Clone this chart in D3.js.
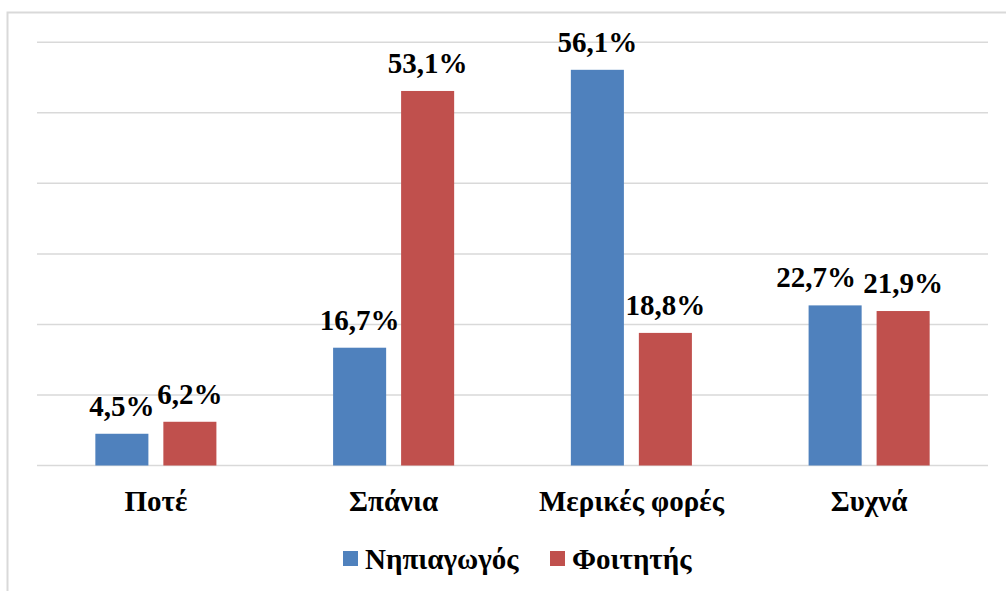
<!DOCTYPE html>
<html>
<head>
<meta charset="utf-8">
<script src="https://d3js.org/d3.v7.min.js"></script>
</head>
<body style="margin:0">
<script>
const categories = ["Ποτέ", "Σπάνια", "Μερικές φορές", "Συχνά"];
const seriesNames = ["Νηπιαγωγός", "Φοιτητής"];
const nipiagogos = [4.5, 16.7, 56.1, 22.7];
const foititis = [6.2, 53.1, 18.8, 21.9];
const yTicks = [0, 10, 20, 30, 40, 50, 60];
const colors = ["#4F81BD", "#C0504D"];

const w = 1006, h = 591;
const values = [nipiagogos, foititis];

const svg = d3.select('body').append('svg')
  .attr('width', w)
  .attr('height', h);

// outer frame
svg.append('rect')
  .attr('x', 7.5).attr('y', 12.5)
  .attr('width', w + 10).attr('height', h + 10)
  .attr('fill', 'none')
  .attr('stroke', '#d9d9d9')
  .attr('stroke-width', 2);

const x0 = d3.scaleBand()
  .domain(categories)
  .range([37, 988]);

const x1 = d3.scaleBand()
  .domain(seriesNames)
  .range([0, x0.bandwidth()])
  .paddingInner(0.22)
  .paddingOuter(0.858);

const y = d3.scaleLinear()
  .domain([0, 60])
  .range([465.5, 42.3]);

// gridlines
svg.append('g')
  .selectAll('line')
  .data(yTicks)
  .enter()
  .append('line')
  .attr('x1', 37).attr('x2', 988)
  .attr('y1', d => y(d)).attr('y2', d => y(d))
  .attr('stroke', '#d9d9d9')
  .attr('stroke-width', 1.5);

const groups = svg.append('g')
  .selectAll('g')
  .data(categories)
  .enter()
  .append('g')
  .attr('transform', d => 'translate(' + x0(d) + ',0)');

const cells = (c, i) => seriesNames.map((s, j) => ({ c: c, s: s, v: values[j][i], j: j }));

groups.selectAll('rect')
  .data(cells)
  .enter()
  .append('rect')
  .attr('x', d => x1(d.s))
  .attr('y', d => y(d.v))
  .attr('width', x1.bandwidth())
  .attr('height', d => y(0) - y(d.v))
  .attr('fill', d => colors[d.j]);

// the 22,7% label was dragged left in the original so it doesn't hit 21,9%
const nudge = d => (d.c === "Συχνά" && d.j === 0) ? -19 : 0;

groups.selectAll('text')
  .data(cells)
  .enter()
  .append('text')
  .attr('x', d => x1(d.s) + x1.bandwidth() / 2 + nudge(d))
  .attr('y', d => y(d.v) - 18)
  .attr('text-anchor', 'middle')
  .attr('font-family', 'Liberation Serif')
  .attr('font-weight', 'bold')
  .attr('font-size', 29)
  .text(d => d.v.toFixed(1).replace('.', ',') + '%');

// category labels
svg.append('g')
  .selectAll('text')
  .data(categories)
  .enter()
  .append('text')
  .attr('x', d => x0(d) + x0.bandwidth() / 2)
  .attr('y', 511)
  .attr('text-anchor', 'middle')
  .attr('font-family', 'Liberation Serif')
  .attr('font-weight', 'bold')
  .attr('font-size', 29)
  .text(d => d);

// legend
const legendX = [343, 550];
const legend = svg.append('g')
  .selectAll('g')
  .data(seriesNames)
  .enter()
  .append('g')
  .attr('transform', (d, i) => 'translate(' + legendX[i] + ',0)');

legend.append('rect')
  .attr('x', 0).attr('y', 551)
  .attr('width', 15).attr('height', 15)
  .attr('fill', (d, i) => colors[i]);

legend.append('text')
  .attr('x', 22)
  .attr('y', 569)
  .attr('font-family', 'Liberation Serif')
  .attr('font-weight', 'bold')
  .attr('font-size', 29)
  .text(d => d);
</script>
</body>
</html>
